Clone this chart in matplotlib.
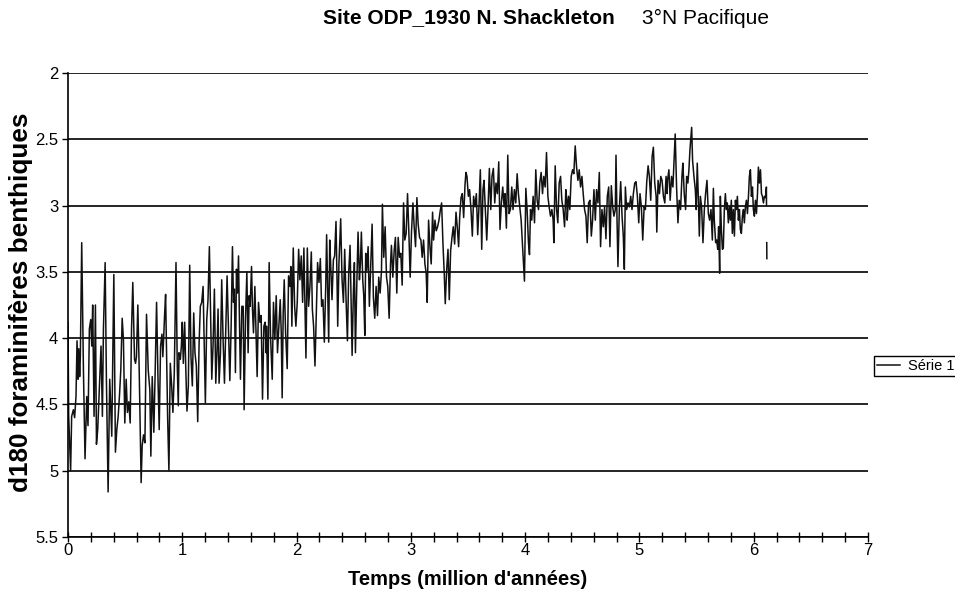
import numpy as np
import matplotlib
matplotlib.use('Agg')
import matplotlib.pyplot as plt

plt.rcParams['font.family'] = ['Liberation Sans', 'DejaVu Sans']

# --- donnees (temps en Ma, d18O benthique) ---
temps_0 = [0.000, 0.006, 0.023, 0.032, 0.047, 0.058, 0.070, 0.079, 0.088, 0.094,
           0.102, 0.108, 0.120, 0.135, 0.149, 0.164, 0.175, 0.187, 0.199, 0.208,
           0.216, 0.228, 0.240, 0.249, 0.260, 0.275, 0.289, 0.301, 0.310, 0.325,
           0.336, 0.351, 0.365, 0.383, 0.401, 0.415, 0.427, 0.439, 0.450, 0.462,
           0.474, 0.485, 0.497, 0.509, 0.520, 0.532, 0.544, 0.556, 0.567, 0.582,
           0.591, 0.599, 0.611, 0.623, 0.635, 0.640, 0.649, 0.661, 0.673, 0.687,
           0.702, 0.716, 0.725, 0.737, 0.751, 0.763, 0.775, 0.787, 0.798, 0.810,
           0.822, 0.830, 0.845, 0.854]
d18o_0 = [3.88, 4.59, 5.00, 4.59, 4.54, 4.60, 4.44, 4.02, 4.31, 4.08,
          4.29, 4.14, 3.28, 4.24, 4.91, 4.44, 4.66, 3.93, 3.86, 4.06,
          3.75, 4.59, 3.75, 4.80, 4.69, 4.36, 4.06, 4.59, 3.93, 3.43,
          4.31, 5.16, 4.31, 4.74, 3.52, 4.86, 4.69, 4.59, 4.44, 4.24,
          3.85, 4.01, 4.64, 4.31, 4.56, 4.48, 4.64, 3.93, 3.58, 4.16,
          4.19, 4.14, 3.75, 4.24, 4.83, 5.09, 4.81, 4.73, 4.79, 3.82,
          4.24, 4.39, 4.89, 4.29, 4.71, 4.24, 3.73, 4.29, 4.69, 4.06,
          3.97, 4.14, 3.83, 3.67]

temps_1 = [0.872, 0.883, 0.895, 0.907, 0.918, 0.930, 0.945, 0.956, 0.965, 0.971,
           0.983, 0.992, 1.000, 1.009, 1.021, 1.030, 1.041, 1.053, 1.065, 1.076,
           1.088, 1.100, 1.111, 1.123, 1.135, 1.147, 1.158, 1.170, 1.182, 1.193,
           1.202, 1.214, 1.225, 1.237, 1.249, 1.258, 1.269, 1.281, 1.293, 1.304,
           1.313, 1.322, 1.334, 1.345, 1.357, 1.369, 1.380, 1.392, 1.404, 1.416,
           1.427, 1.439, 1.448, 1.456, 1.465, 1.474, 1.483, 1.492, 1.500, 1.509,
           1.521, 1.533, 1.541, 1.553, 1.565, 1.576, 1.585, 1.594, 1.606, 1.614,
           1.623, 1.635, 1.644, 1.655, 1.667, 1.679, 1.690, 1.702, 1.714, 1.725,
           1.734]
d18o_1 = [4.61, 5.00, 4.19, 4.36, 4.56, 4.26, 3.43, 4.21, 4.51, 4.11,
          4.16, 4.06, 3.88, 4.19, 3.88, 4.21, 4.55, 4.36, 3.45, 4.14,
          4.36, 3.81, 4.11, 4.21, 4.63, 4.04, 3.76, 3.73, 3.61, 4.11,
          4.49, 3.86, 3.71, 3.31, 3.86, 4.31, 4.06, 3.63, 4.34, 4.09,
          3.78, 4.34, 4.11, 3.56, 4.01, 4.34, 3.96, 3.53, 3.93, 4.32,
          3.93, 3.31, 3.73, 3.63, 4.26, 3.48, 3.66, 3.38, 3.86, 4.31,
          3.76, 3.76, 4.54, 3.86, 3.50, 4.11, 3.68, 3.76, 3.46, 3.78,
          3.96, 3.61, 3.91, 4.29, 3.73, 3.88, 3.83, 4.46, 3.91, 3.88,
          4.11]

temps_2 = [1.737, 1.749, 1.760, 1.772, 1.787, 1.798, 1.810, 1.822, 1.833, 1.845,
           1.857, 1.866, 1.874, 1.883, 1.892, 1.904, 1.918, 1.930, 1.942, 1.950,
           1.959, 1.971, 1.983, 1.994, 2.006, 2.018, 2.029, 2.041, 2.053, 2.064,
           2.076, 2.082, 2.094, 2.105, 2.117, 2.129, 2.138, 2.149, 2.161, 2.173,
           2.184, 2.196, 2.208, 2.219, 2.231, 2.243, 2.255, 2.263, 2.272, 2.281,
           2.290, 2.298, 2.310, 2.322, 2.333, 2.345, 2.354, 2.360, 2.371, 2.386,
           2.398, 2.410, 2.421, 2.433, 2.445, 2.456, 2.468, 2.477, 2.486, 2.497,
           2.506, 2.515, 2.526, 2.538, 2.550, 2.559, 2.567, 2.579, 2.588, 2.597,
           2.605]
d18o_2 = [3.91, 4.46, 3.43, 3.98, 4.31, 3.73, 4.01, 3.68, 4.11, 3.91,
          3.71, 3.96, 4.45, 3.81, 3.56, 3.96, 4.23, 3.53, 3.61, 3.46,
          3.91, 3.32, 3.76, 3.91, 3.73, 3.33, 3.56, 3.38, 3.73, 3.32,
          3.86, 4.15, 3.32, 3.76, 3.61, 3.35, 3.78, 3.91, 4.21, 3.81,
          3.43, 3.58, 3.40, 3.76, 3.71, 4.03, 3.61, 3.22, 3.61, 4.03,
          3.26, 3.43, 3.71, 3.41, 3.38, 3.12, 3.56, 3.91, 3.43, 3.10,
          3.56, 3.73, 3.33, 3.71, 4.02, 3.51, 3.30, 3.71, 4.13, 3.66,
          3.43, 4.11, 3.63, 3.20, 3.56, 3.43, 3.20, 3.56, 3.68, 3.98,
          3.36]

temps_3 = [2.614, 2.626, 2.637, 2.649, 2.661, 2.672, 2.684, 2.696, 2.708, 2.719,
           2.731, 2.743, 2.751, 2.763, 2.775, 2.787, 2.798, 2.810, 2.822, 2.830,
           2.842, 2.854, 2.865, 2.877, 2.889, 2.901, 2.912, 2.924, 2.936, 2.947,
           2.959, 2.971, 2.982, 2.994, 3.006, 3.018, 3.029, 3.041, 3.053, 3.064,
           3.076, 3.088, 3.099, 3.111, 3.123, 3.134, 3.143, 3.155, 3.167, 3.178,
           3.190, 3.199, 3.211, 3.222, 3.234, 3.246, 3.257, 3.269, 3.281, 3.292,
           3.301, 3.313, 3.325, 3.336, 3.348, 3.360, 3.371, 3.383, 3.395, 3.406,
           3.418, 3.427, 3.439, 3.450, 3.462, 3.474, 3.482]
d18o_3 = [3.49, 3.31, 3.76, 3.46, 3.14, 3.69, 3.85, 3.61, 3.83, 3.54,
          3.66, 3.49, 2.99, 3.39, 3.16, 3.54, 3.61, 3.85, 3.44, 3.30,
          3.54, 3.34, 3.24, 3.66, 3.24, 3.39, 3.36, 3.60, 2.98, 3.26,
          3.21, 2.91, 3.19, 3.54, 3.19, 2.98, 3.16, 3.31, 2.94, 3.14,
          3.24, 3.26, 3.39, 3.26, 3.44, 3.51, 3.73, 3.11, 3.31, 3.44,
          3.05, 3.26, 3.11, 3.19, 3.16, 3.11, 3.04, 2.98, 3.29, 3.51,
          3.74, 3.49, 3.33, 3.71, 3.34, 3.24, 3.16, 3.29, 3.05, 3.16,
          3.31, 3.09, 2.94, 2.91, 3.09, 2.84, 2.75]

temps_4 = [3.491, 3.503, 3.514, 3.526, 3.538, 3.549, 3.561, 3.573, 3.585, 3.596,
           3.608, 3.620, 3.631, 3.640, 3.652, 3.664, 3.675, 3.687, 3.699, 3.710,
           3.722, 3.734, 3.745, 3.757, 3.769, 3.780, 3.792, 3.804, 3.816, 3.824,
           3.836, 3.848, 3.859, 3.871, 3.883, 3.894, 3.906, 3.918, 3.930, 3.941,
           3.953, 3.965, 3.976, 3.988, 3.994, 4.006, 4.017, 4.029, 4.038, 4.047,
           4.058, 4.070, 4.082, 4.093, 4.105, 4.117, 4.128, 4.140, 4.152, 4.163,
           4.175, 4.187, 4.199, 4.210, 4.222, 4.234, 4.245, 4.251, 4.263, 4.275,
           4.286, 4.298, 4.310, 4.321, 4.333, 4.345, 4.356, 4.365]
d18o_4 = [2.78, 2.93, 2.88, 3.03, 3.23, 2.93, 3.01, 2.91, 3.22, 3.01,
          2.73, 3.33, 2.88, 2.81, 3.03, 3.26, 3.03, 2.72, 3.03, 2.78,
          2.72, 2.98, 2.83, 2.91, 2.67, 3.18, 2.98, 2.86, 3.01, 2.91,
          3.17, 2.62, 3.06, 3.03, 2.86, 3.03, 2.88, 2.98, 2.76, 2.91,
          3.01, 3.11, 3.28, 3.46, 3.57, 2.87, 3.03, 3.28, 3.37, 3.03,
          3.11, 2.93, 3.13, 2.73, 2.96, 3.03, 2.83, 2.75, 2.91, 2.78,
          2.86, 2.60, 2.93, 3.01, 3.08, 3.03, 3.11, 3.28, 2.70, 3.03,
          3.13, 2.83, 2.78, 2.96, 3.03, 3.16, 2.88, 2.96]

temps_5 = [4.368, 4.380, 4.391, 4.403, 4.415, 4.426, 4.438, 4.450, 4.462, 4.473,
           4.485, 4.497, 4.508, 4.520, 4.532, 4.543, 4.555, 4.567, 4.579, 4.590,
           4.602, 4.614, 4.625, 4.637, 4.649, 4.660, 4.672, 4.684, 4.695, 4.707,
           4.719, 4.731, 4.742, 4.754, 4.766, 4.777, 4.789, 4.795, 4.804, 4.812,
           4.824, 4.836, 4.848, 4.859, 4.868, 4.877, 4.888, 4.900, 4.912, 4.924,
           4.935, 4.947, 4.959, 4.970, 4.982, 4.994, 5.005, 5.017, 5.029, 5.041,
           5.052, 5.064, 5.076, 5.087, 5.099, 5.111, 5.122, 5.134, 5.146, 5.152,
           5.163, 5.175, 5.187, 5.198, 5.210, 5.222, 5.233, 5.242]
d18o_5 = [3.11, 2.93, 3.03, 2.78, 2.73, 2.76, 2.55, 2.71, 2.81, 2.73,
          2.86, 2.78, 2.91, 3.03, 3.08, 3.28, 2.98, 2.96, 3.23, 3.11,
          2.88, 3.11, 2.88, 2.98, 2.75, 3.31, 3.03, 3.16, 3.01, 3.25,
          2.93, 2.86, 3.31, 2.85, 3.01, 3.08, 3.03, 2.62, 3.11, 3.46,
          3.03, 2.82, 3.08, 3.23, 3.48, 2.86, 3.03, 2.98, 3.01, 2.93,
          3.03, 2.91, 2.83, 2.82, 2.93, 3.13, 2.91, 3.01, 3.26, 3.01,
          3.03, 2.82, 2.70, 2.78, 2.96, 2.63, 2.56, 2.83, 2.93, 3.20,
          2.81, 2.91, 2.78, 2.81, 2.93, 2.98, 2.78, 2.91]

temps_6 = [5.246, 5.258, 5.269, 5.281, 5.293, 5.304, 5.313, 5.325, 5.337, 5.348,
           5.360, 5.372, 5.380, 5.392, 5.404, 5.413, 5.424, 5.433, 5.442, 5.451,
           5.457, 5.465, 5.477, 5.489, 5.497, 5.506, 5.515, 5.524, 5.533, 5.544,
           5.556, 5.568, 5.579, 5.591, 5.603, 5.614, 5.626, 5.638, 5.647, 5.655,
           5.667, 5.676, 5.685, 5.693, 5.702, 5.708, 5.717, 5.726, 5.734, 5.743,
           5.752, 5.761, 5.769, 5.778, 5.787, 5.796, 5.804, 5.813, 5.822, 5.831,
           5.840, 5.848, 5.857, 5.866, 5.875, 5.883, 5.892, 5.901, 5.910, 5.918,
           5.927, 5.936, 5.945, 5.954, 5.962, 5.971, 5.980, 5.989, 5.997, 6.006,
           6.015, 6.024, 6.033, 6.041, 6.050, 6.059, 6.068, 6.076, 6.085, 6.094,
           6.103, 6.111, 6.112, 6.113, 6.114, 6.115]
d18o_6 = [2.81, 2.73, 2.96, 2.78, 2.86, 2.63, 2.46, 2.86, 3.13, 2.96,
          3.03, 2.78, 2.68, 2.91, 3.03, 2.78, 2.83, 2.73, 2.58, 2.48,
          2.41, 2.66, 2.78, 2.88, 3.03, 2.68, 2.93, 3.23, 2.93, 3.01,
          3.28, 3.03, 2.91, 2.81, 3.06, 3.11, 3.03, 3.26, 2.87, 3.11,
          3.28, 3.26, 3.33, 3.16, 3.51, 2.93, 3.18, 3.33, 3.32, 3.03,
          2.91, 3.03, 2.98, 3.13, 3.01, 3.11, 2.96, 3.21, 3.03, 3.23,
          2.96, 3.03, 2.93, 3.11, 3.03, 3.18, 3.21, 3.08, 3.03, 3.13,
          3.01, 2.96, 3.06, 2.93, 2.78, 2.73, 2.93, 2.86, 3.03, 3.08,
          2.96, 3.06, 2.91, 2.71, 2.83, 2.73, 2.91, 2.93, 2.98, 2.93,
          2.94, 2.86, 3.00, np.nan, 3.28, 3.40]

temps = temps_0 + temps_1 + temps_2 + temps_3 + temps_4 + temps_5 + temps_6
d18o = d18o_0 + d18o_1 + d18o_2 + d18o_3 + d18o_4 + d18o_5 + d18o_6

y_ticks = [2, 2.5, 3, 3.5, 4, 4.5, 5, 5.5]
y_labels = ['2', '2.5', '3', '3.5', '4', '4.5', '5', '5.5']
x_ticks = [0, 1, 2, 3, 4, 5, 6, 7]

fig = plt.figure(figsize=(9.55, 5.94), dpi=100)
ax = fig.add_axes([68/955, 1-537/594, 800/955, 464/594])

ax.plot(temps, d18o, color='#111111', lw=1.1, label='Série 1')

ax.set_xlim(0, 7)
ax.set_ylim(5.5, 2)
ax.set_xticks(x_ticks)
ax.set_xticks(np.arange(0, 7.01, 0.2), minor=True)
ax.set_yticks(y_ticks)
ax.set_yticklabels(y_labels)
ax.yaxis.grid(True, color='black', lw=1.2)
ax.set_axisbelow(True)

ax.spines['top'].set_visible(False)
ax.spines['right'].set_visible(False)
ax.spines['left'].set_linewidth(1.2)
ax.spines['bottom'].set_linewidth(1.2)

ax.tick_params(axis='x', which='both', direction='inout', length=7, width=1, labelsize=12, pad=1)
ax.tick_params(axis='y', direction='out', length=4, width=1, labelsize=12, pad=3)

ax.set_xlabel("Temps (million d'années)", fontsize=14.5, fontweight='bold')
ax.xaxis.set_label_coords(0.5, -0.072)
ax.set_ylabel('d180 foraminifères benthiques', fontsize=18.8, fontweight='bold')
ax.yaxis.set_label_coords(-0.044, 0.505)

fig.text(323/955, 1-18/594, 'Site ODP_1930 N. Shackleton', fontsize=15,
         fontweight='bold', ha='left', va='center')
fig.text(642/955, 1-18/594, '3°N Pacifique', fontsize=15, ha='left', va='center')

leg = fig.legend(loc='center left', bbox_to_anchor=(874/955, 1-366/594), fontsize=10.5,
                 frameon=True, fancybox=False, edgecolor='black', framealpha=1,
                 handlelength=1.6, handletextpad=0.5, borderpad=0.2, borderaxespad=0)
leg.get_frame().set_linewidth(1.0)

fig.savefig('out.png', dpi=100)
